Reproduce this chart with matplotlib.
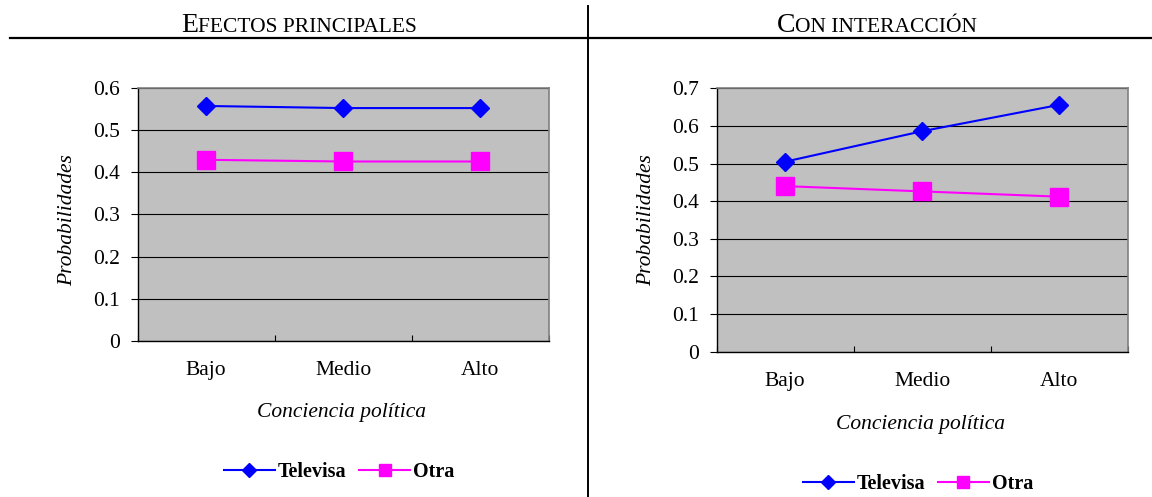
import matplotlib
matplotlib.use("Agg")
import matplotlib.pyplot as plt
from matplotlib.lines import Line2D
from matplotlib.ticker import FuncFormatter

plt.rcParams["font.family"] = ["Liberation Serif", "DejaVu Serif"]

W, H = 1152, 497

categories = ["Bajo", "Medio", "Alto"]

# Efectos principales
main_televisa = [0.558, 0.553, 0.553]
main_otra = [0.430, 0.426, 0.426]
main_yticks = [0, 0.1, 0.2, 0.3, 0.4, 0.5, 0.6]

# Con interacción
inter_televisa = [0.505, 0.586, 0.656]
inter_otra = [0.440, 0.426, 0.412]
inter_yticks = [0, 0.1, 0.2, 0.3, 0.4, 0.5, 0.6, 0.7]

headers = ["Efectos principales", "Con interacción"]

BLUE = "#0000FF"
PINK = "#FF00FF"
GRAY = "#C0C0C0"
FS = 15.5


def px_axes(fig, left, top, right, bottom):
    return fig.add_axes([left / W, 1 - bottom / H, (right - left) / W, (bottom - top) / H])


def small_caps(fig, text, cx, baseline, big=20, small=15.5):
    # split into runs: uppercase letters big, the rest as small capitals
    runs = []
    for ch in text:
        size = big if ch.isupper() else small
        if runs and runs[-1][1] == size:
            runs[-1][0] += ch.upper()
        else:
            runs.append([ch.upper(), size])
    renderer = fig.canvas.get_renderer()
    widths = []
    for s, size in runs:
        t = fig.text(0, 0, s, fontsize=size)
        widths.append(t.get_window_extent(renderer).width)
        t.remove()
    x = cx - sum(widths) / 2
    for (s, size), w in zip(runs, widths):
        fig.text(x / W, 1 - baseline / H, s, fontsize=size, va="baseline", ha="left")
        x += w


def draw_panel(ax, televisa, otra, yticks, ylab_y, xlab_y, leg_y):
    x = range(len(categories))
    ax.set_facecolor(GRAY)
    ax.plot(x, televisa, color=BLUE, lw=1.5, marker="D", ms=9, zorder=3)
    ax.plot(x, otra, color=PINK, lw=1.5, marker="s", ms=12.5, zorder=3)

    ax.set_xlim(-0.5, len(categories) - 0.5)
    ax.set_ylim(yticks[0], yticks[-1])
    ax.set_yticks(yticks)
    ax.yaxis.set_major_formatter(FuncFormatter(lambda v, p: f"{v:g}"))
    ax.tick_params(axis="y", direction="out", length=5, width=0.8, pad=8, labelsize=FS)

    ax.set_xticks([i - 0.5 for i in range(len(categories) + 1)])
    ax.set_xticklabels([])
    ax.tick_params(axis="x", which="major", direction="in", length=4.5, width=0.8)
    ax.set_xticks(list(x), minor=True)
    ax.set_xticklabels(categories, minor=True)
    ax.tick_params(axis="x", which="minor", length=0, pad=14.5, labelsize=FS)

    ax.yaxis.grid(True, color="black", lw=0.8)
    ax.set_axisbelow(True)
    for side in ["top", "right"]:
        ax.spines[side].set_color("#808080")
        ax.spines[side].set_linewidth(1.2)
    for side in ["left", "bottom"]:
        ax.spines[side].set_color("black")
        ax.spines[side].set_linewidth(1.0)

    ax.set_ylabel("Probabilidades", fontsize=FS, style="italic")
    ax.yaxis.label.set_va("center")
    ax.yaxis.set_label_coords(-0.171, ylab_y)
    ax.set_xlabel("Conciencia política", fontsize=FS, style="italic")
    ax.xaxis.label.set_va("center")
    ax.xaxis.set_label_coords(0.495, xlab_y)

    handles = [
        Line2D([], [], color=BLUE, lw=1.5, marker="D", ms=7),
        Line2D([], [], color=PINK, lw=1.5, marker="s", ms=8),
    ]
    ax.legend(handles, ["Televisa", "Otra"], loc="center", bbox_to_anchor=(0.49, leg_y),
              ncol=2, frameon=False, handlelength=2.5, handletextpad=0.15,
              columnspacing=0.65, prop={"weight": "bold", "size": 14.5})


fig = plt.figure(figsize=(W / 100, H / 100), dpi=100)

ax1 = px_axes(fig, 137.7, 88.3, 549, 340.7)
draw_panel(ax1, main_televisa, main_otra, main_yticks, 0.478, -0.283, -0.52)

ax2 = px_axes(fig, 716.7, 88.3, 1127.7, 351.7)
draw_panel(ax2, inter_televisa, inter_otra, inter_yticks, 0.5, -0.2745, -0.502)

# table header lines
fig.add_artist(Line2D([10 / W, 1], [1 - 37.7 / H] * 2, color="black", lw=1.6,
                      transform=fig.transFigure))
fig.add_artist(Line2D([588 / W] * 2, [0, 1 - 6 / H], color="black", lw=1.4,
                      transform=fig.transFigure))

small_caps(fig, headers[0], 299, 31.7)
small_caps(fig, headers[1], 877, 31.7)

fig.savefig("out.png", dpi=100)
